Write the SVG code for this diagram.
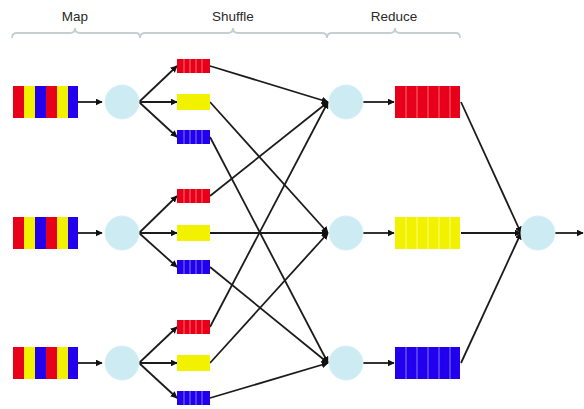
<svg xmlns="http://www.w3.org/2000/svg" width="584" height="409" viewBox="0 0 584 409">
<defs>
<marker id="ah" viewBox="0 0 10 10" refX="9" refY="5" markerWidth="7" markerHeight="7" markerUnits="userSpaceOnUse" orient="auto"><path d="M0,0 L10,5 L0,10 z" fill="#111"/></marker>
<style>
.lbl{font-family:"Liberation Sans",Arial,sans-serif;font-size:13.5px;fill:#2a2a2a;text-anchor:middle}
.brace{fill:none;stroke:#c5cfcf;stroke-width:1.8}
.c{fill:#cdebf3;stroke:#d9f0f6;stroke-width:1}
.ln{stroke:#1c1c1c;stroke-width:1.8;fill:none;marker-end:url(#ah)}
.r{fill:#e8001a}.y{fill:#f2f200}.b{fill:#2200ee}
.sepr{stroke:#ff8a8a;stroke-width:0.8}.sepb{stroke:#9a9aff;stroke-width:0.8}.sepy{stroke:#ffffa0;stroke-width:0.8}
</style>
<g id="mq">
<rect x="0" y="-16" width="11" height="32" class="r"/><rect x="11" y="-16" width="11" height="32" class="y"/><rect x="22" y="-16" width="11" height="32" class="b"/><rect x="33" y="-16" width="11" height="32" class="r"/><rect x="44" y="-16" width="11" height="32" class="y"/><rect x="55" y="-16" width="10" height="32" class="b"/>
</g>
<g id="sr"><rect x="0" y="-7" width="33" height="14" class="r"/><path d="M7,-7v14M13,-7v14M19,-7v14M25,-7v14" class="sepr"/></g>
<g id="sy"><rect x="0" y="-8" width="33" height="16" class="y"/></g>
<g id="sb"><rect x="0" y="-7" width="33" height="14" class="b"/><path d="M7,-7v14M13,-7v14M19,-7v14M25,-7v14" class="sepb"/></g>
</defs>
<rect width="584" height="409" fill="#fff"/>
<g id="braces">
<path class="brace" d="M12,38 Q12,33 17,33 L70,33 Q75,33 75,28 Q75,33 80,33 L136,33 Q140,33 140,38 Q140,33 145,33 L228,33 Q233,33 233,28 Q233,33 238,33 L322,33 Q327,33 327,38 Q327,33 332,33 L390,33 Q395,33 395,28 Q395,33 400,33 L456,33 Q460,33 460,38"/>
<text class="lbl" x="75" y="21">Map</text>
<text class="lbl" x="233" y="21">Shuffle</text>
<text class="lbl" x="394" y="21">Reduce</text>
</g>
<g id="connectors">
<path class="ln" d="M78,102H102"/><path class="ln" d="M78,233H102"/><path class="ln" d="M78,363H102"/>
<path class="ln" d="M139,102L177,66"/><path class="ln" d="M139,102H177"/><path class="ln" d="M139,102L177,137"/>
<path class="ln" d="M139,233L177,196"/><path class="ln" d="M139,233H177"/><path class="ln" d="M139,233L177,267"/>
<path class="ln" d="M139,363L177,327"/><path class="ln" d="M139,363H177"/><path class="ln" d="M139,363L177,398"/>
<path class="ln" d="M210,66L328,102"/><path class="ln" d="M210,196L328,102"/><path class="ln" d="M210,327L328,102"/>
<path class="ln" d="M210,102L328,233"/><path class="ln" d="M210,233L328,233"/><path class="ln" d="M210,363L328,233"/>
<path class="ln" d="M210,137L328,363"/><path class="ln" d="M210,267L328,363"/><path class="ln" d="M210,398L328,363"/>
<path class="ln" d="M363,102H394"/><path class="ln" d="M363,233H394"/><path class="ln" d="M363,363H394"/>
<path class="ln" d="M461,102L521,233"/><path class="ln" d="M461,233H521"/><path class="ln" d="M461,363L521,233"/>
<path class="ln" d="M555,233H583"/>
</g>
<g id="map1"><use href="#mq" x="13" y="102"/></g>
<g id="map2"><use href="#mq" x="13" y="233"/></g>
<g id="map3"><use href="#mq" x="13" y="363"/></g>
<g id="mapper1"><circle class="c" cx="122" cy="102" r="17"/></g>
<g id="mapper2"><circle class="c" cx="122" cy="233" r="17"/></g>
<g id="mapper3"><circle class="c" cx="122" cy="363" r="17"/></g>
<g id="s1r"><use href="#sr" x="177" y="66"/></g>
<g id="s1y"><use href="#sy" x="177" y="102"/></g>
<g id="s1b"><use href="#sb" x="177" y="137"/></g>
<g id="s2r"><use href="#sr" x="177" y="196"/></g>
<g id="s2y"><use href="#sy" x="177" y="233"/></g>
<g id="s2b"><use href="#sb" x="177" y="267"/></g>
<g id="s3r"><use href="#sr" x="177" y="327"/></g>
<g id="s3y"><use href="#sy" x="177" y="363"/></g>
<g id="s3b"><use href="#sb" x="177" y="398"/></g>
<g id="reducer1"><circle class="c" cx="346" cy="102" r="17"/></g>
<g id="reducer2"><circle class="c" cx="346" cy="233" r="17"/></g>
<g id="reducer3"><circle class="c" cx="346" cy="363" r="17"/></g>
<g id="rq1"><rect x="395" y="86" width="65" height="32" class="r"/><path d="M406,86v32M417,86v32M428,86v32M439,86v32M450,86v32" class="sepr"/></g>
<g id="rq2"><rect x="395" y="217" width="65" height="32" class="y"/><path d="M406,217v32M417,217v32M428,217v32M439,217v32M450,217v32" class="sepy"/></g>
<g id="rq3"><rect x="395" y="347" width="65" height="32" class="b"/><path d="M406,347v32M417,347v32M428,347v32M439,347v32M450,347v32" class="sepb"/></g>
<g id="final"><circle class="c" cx="538" cy="233" r="17"/></g>
</svg>
